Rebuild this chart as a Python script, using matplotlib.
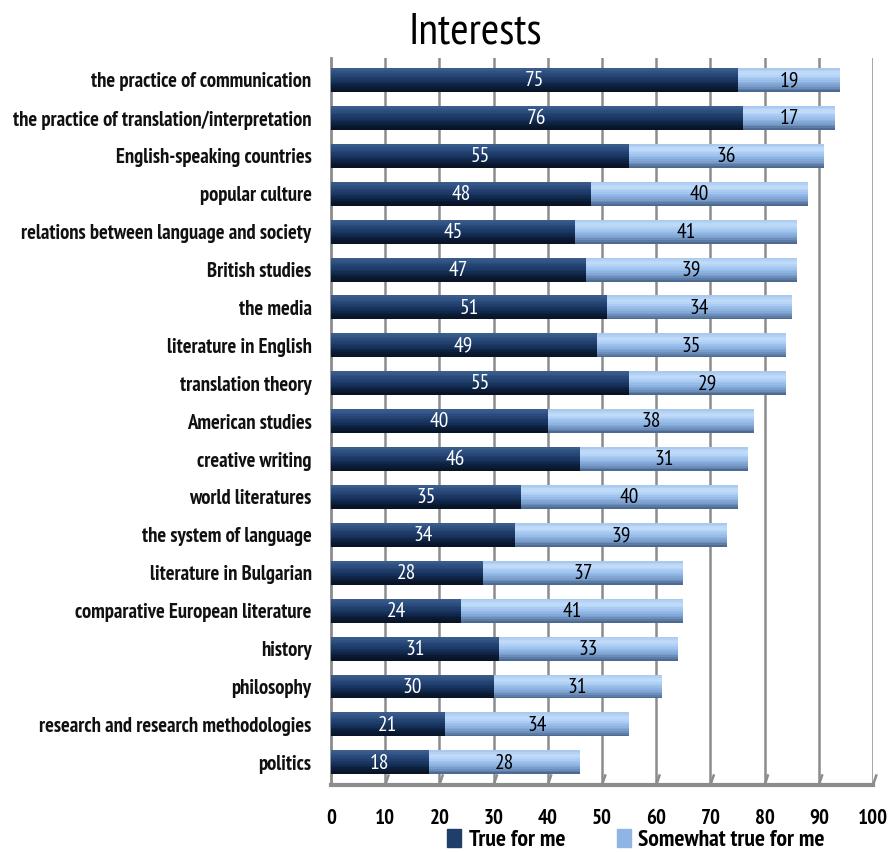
import numpy as np
import matplotlib
matplotlib.use("Agg")
import matplotlib.pyplot as plt
from matplotlib import font_manager as fm
from matplotlib.colors import LinearSegmentedColormap

# data, top to bottom
categories = [
    "the practice of communication",
    "the practice of translation/interpretation",
    "English-speaking countries",
    "popular culture",
    "relations between language and society",
    "British studies",
    "the media",
    "literature in English",
    "translation theory",
    "American studies",
    "creative writing",
    "world literatures",
    "the system of language",
    "literature in Bulgarian",
    "comparative European literature",
    "history",
    "philosophy",
    "research and research methodologies",
    "politics",
]
true_for_me = [75, 76, 55, 48, 45, 47, 51, 49, 55, 40, 46, 35, 34, 28, 24, 31, 30, 21, 18]
somewhat_true = [19, 17, 36, 40, 41, 39, 34, 35, 29, 38, 31, 40, 39, 37, 41, 33, 31, 34, 28]
series_names = ["True for me", "Somewhat true for me"]
xticks = list(range(0, 101, 10))

# pick a narrow font if one is installed
installed = {f.name for f in fm.fontManager.ttflist}
wanted = ['PT Sans Narrow', 'Roboto Condensed', 'Archivo Narrow', 'Open Sans Condensed',
          'Carlito', 'Liberation Sans Narrow', 'DejaVu Sans']
font = next(f for f in wanted if f in installed or f == 'DejaVu Sans')
plt.rcParams['font.family'] = [font, 'DejaVu Sans']

# shading for the "3d" bars (top -> bottom)
dark_cmap = LinearSegmentedColormap.from_list(
    "dark", ["#3a5d8c", "#2c4f80", "#1f3e6a", "#15305a", "#0c1d38", "#081426"])
light_cmap = LinearSegmentedColormap.from_list(
    "light", ["#a9c9ef", "#c4defa", "#a8cbf2", "#8fb5e4", "#7699c6", "#4d6b92"])

fig = plt.figure(figsize=(8.95, 8.52), dpi=100)
ax = fig.add_axes([331 / 895, 1 - 785 / 852, (873 - 331) / 895, (785 - 58) / 852])

y = np.arange(len(categories))
true_arr = np.array(true_for_me)
some_arr = np.array(somewhat_true)
h = 0.63
n_strips = 14
for k in range(n_strips):
    t = k / (n_strips - 1)
    y0 = y - h / 2 + k * h / n_strips
    ax.barh(y0, true_arr, height=h / n_strips + 0.002, left=0, align='edge',
            color=dark_cmap(t), linewidth=0, zorder=3)
    ax.barh(y0, some_arr, height=h / n_strips + 0.002, left=true_arr, align='edge',
            color=light_cmap(t), linewidth=0, zorder=3)

for yi, a, b in zip(y, true_arr, some_arr):
    ax.text(a / 2, yi + 0.02, str(a), color="white", ha="center", va="center",
            fontsize=15.5, zorder=5)
    ax.text(a + b / 2, yi + 0.02, str(b), color="black", ha="center", va="center",
            fontsize=15.5, zorder=5)

ax.set_xlim(0, 100)
ax.set_ylim(18.6, -0.58)
ax.set_yticks(y)
ax.set_yticklabels(categories, fontsize=14.9, fontweight="bold", color="#111111")
ax.set_xticks(xticks)
ax.set_xticklabels([str(v) for v in xticks], fontsize=15, fontweight="bold")
ax.tick_params(axis="y", length=0, pad=14)
ax.tick_params(axis="x", length=0, pad=17)

# walls / grid
for v in xticks[1:]:
    ax.axvline(v, color="#8c8c8c", linewidth=1.8, zorder=1)
    ax.plot([v + 0.6, v], [18.35, 18.6], color="#8c8c8c", linewidth=1.8,
            zorder=1, clip_on=False)
for s in ["top", "right"]:
    ax.spines[s].set_visible(False)
ax.spines["left"].set_color("#8c8c8c")
ax.spines["left"].set_linewidth(2)
ax.spines["bottom"].set_color("#8c8c8c")
ax.spines["bottom"].set_linewidth(3)

fig.text(475 / 895, 1 - 33 / 852, "Interests", ha="center", va="center",
         fontsize=32)

handles = [plt.Rectangle((0, 0), 1, 1, color="#1f3e6a"),
           plt.Rectangle((0, 0), 1, 1, color="#8fb5e4")]
fig.legend(handles, series_names, loc="center", bbox_to_anchor=(636 / 895, 1 - 840 / 852),
           ncol=2, frameon=False, handlelength=0.6, handleheight=0.8,
           handletextpad=0.3, columnspacing=2.2, borderaxespad=0,
           prop={"size": 17, "weight": "bold"})

fig.savefig("out.png", dpi=100)
